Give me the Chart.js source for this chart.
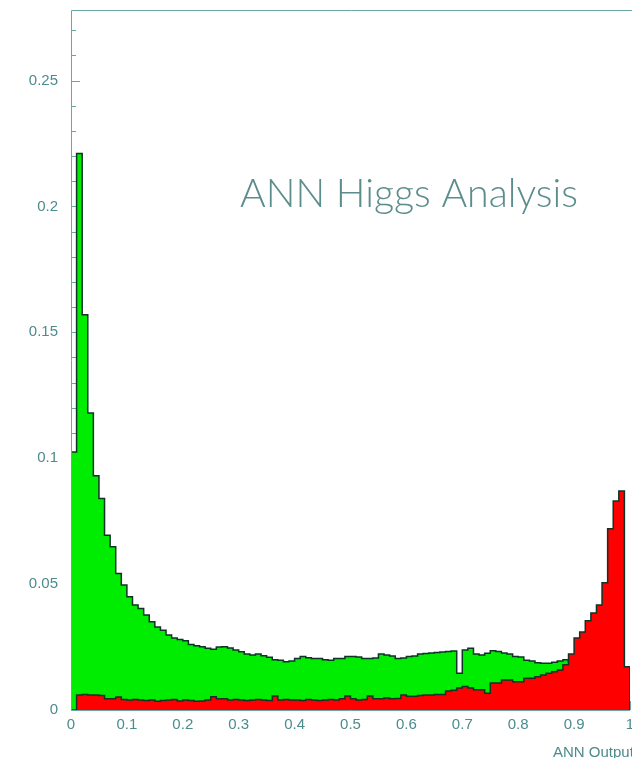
<!DOCTYPE html>
<html>
<head>
<meta charset="utf-8">
<script src="https://cdn.jsdelivr.net/npm/chart.js@4.4.1/dist/chart.umd.min.js"></script>
<style>
  html, body { margin: 0; padding: 0; background: #fff; }
  #wrap { width: 632px; height: 758px; position: relative; }
</style>
</head>
<body>
<div id="wrap"><canvas id="ann"></canvas></div>
<script>
// ANN output histogram, 100 bins over [0, 1]
const binWidth = 0.01;

// background (green)
const backgroundHist = [
  0.1025, 0.221, 0.157, 0.118, 0.093, 0.084, 0.0694, 0.0648, 0.0542, 0.0496,
  0.045, 0.0417, 0.0403, 0.0377, 0.035, 0.033, 0.0317, 0.0298, 0.0286, 0.028,
  0.0275, 0.026, 0.0255, 0.0251, 0.0245, 0.0241, 0.025, 0.0251, 0.0246, 0.0238,
  0.0231, 0.0222, 0.0218, 0.0222, 0.0215, 0.0209, 0.02, 0.0198, 0.0192, 0.0195,
  0.0205, 0.0212, 0.0208, 0.0205, 0.0205, 0.02, 0.0198, 0.0205, 0.0205, 0.0212,
  0.0212, 0.021, 0.0205, 0.0205, 0.0207, 0.0222, 0.0218, 0.0214, 0.0205, 0.0207,
  0.0212, 0.0214, 0.0222, 0.0224, 0.0226, 0.0228, 0.023, 0.0232, 0.0234, 0.0146,
  0.0238, 0.0245, 0.0222, 0.0218, 0.0225, 0.0235, 0.0232, 0.0226, 0.0222, 0.0212,
  0.021, 0.0198, 0.0195, 0.0188, 0.0186, 0.0186, 0.019, 0.0195, 0.02, 0.019,
  0.018, 0.017, 0.017, 0.016, 0.016, 0.015, 0.015, 0.014, 0.014, 0.013
];

// signal (red)
const signalHist = [
  0, 0.006, 0.0062, 0.006, 0.006, 0.0058, 0.0045, 0.0045, 0.0052, 0.0042,
  0.004, 0.0042, 0.004, 0.0038, 0.004, 0.0035, 0.0038, 0.004, 0.0042, 0.0036,
  0.004, 0.0038, 0.0035, 0.0036, 0.004, 0.0053, 0.0045, 0.0045, 0.004, 0.0042,
  0.004, 0.0038, 0.004, 0.0042, 0.004, 0.0038, 0.0056, 0.004, 0.0042, 0.004,
  0.004, 0.0038, 0.0042, 0.004, 0.0038, 0.004, 0.0042, 0.004, 0.0045, 0.0056,
  0.0045, 0.004, 0.0042, 0.0056, 0.0045, 0.0045, 0.0048, 0.0045, 0.0046, 0.006,
  0.0055, 0.0055, 0.0058, 0.006, 0.006, 0.0062, 0.0062, 0.0075, 0.0078, 0.0087,
  0.0093, 0.0087, 0.008, 0.008, 0.0067, 0.0107, 0.0107, 0.0119, 0.0119, 0.0112,
  0.0112, 0.0126, 0.0126, 0.0132, 0.0139, 0.0146, 0.0152, 0.0159, 0.018, 0.0222,
  0.0286, 0.031, 0.0354, 0.0385, 0.0417, 0.0505, 0.072, 0.083, 0.087, 0.0172
];

const xTickValues = [0, 0.1, 0.2, 0.3, 0.4, 0.5, 0.6, 0.7, 0.8, 0.9, 1];
const xTickLabels = ['0', '0.1', '0.2', '0.3', '0.4', '0.5', '0.6', '0.7', '0.8', '0.9', '1'];
const yTickValues = [0, 0.05, 0.1, 0.15, 0.2, 0.25];
const yTickLabels = ['0', '0.05', '0.1', '0.15', '0.2', '0.25'];

const titleText = 'ANN Higgs Analysis';
const xAxisText = 'ANN Output';

const axisColor = '#6aa6a6';
const textColor = '#4e8b8b';
const outline = '#0f3326';

// step-histogram points: left edge of each bin, then close at x = 1
function toSteps(hist) {
  const pts = hist.map((v, i) => ({ x: i * binWidth, y: v }));
  pts.push({ x: hist.length * binWidth, y: hist[hist.length - 1] });
  pts.push({ x: hist.length * binWidth, y: 0 });
  return pts;
}

const frameAndTicks = {
  id: 'frameAndTicks',
  beforeDatasetsDraw(chart) {
    const { ctx, chartArea: a, scales: { x, y } } = chart;
    ctx.save();
    ctx.strokeStyle = axisColor;
    ctx.lineWidth = 1;
    ctx.beginPath();
    for (let i = 0; i <= 27; i++) {
      const py = Math.round(y.getPixelForValue(i * 0.01)) + 0.5;
      const len = i % 5 === 0 ? 9 : 5;
      ctx.moveTo(a.left, py);
      ctx.lineTo(a.left + len, py);
    }
    for (let i = 0; i <= 50; i++) {
      const px = Math.round(x.getPixelForValue(i * 0.02)) + 0.5;
      const len = i % 5 === 0 ? 9 : 5;
      ctx.moveTo(px, a.bottom);
      ctx.lineTo(px, a.bottom - len);
    }
    ctx.stroke();
    ctx.restore();
  },
  afterDraw(chart) {
    const { ctx, chartArea: a } = chart;
    ctx.save();
    ctx.strokeStyle = axisColor;
    ctx.lineWidth = 1;
    ctx.beginPath();
    ctx.moveTo(a.left + 0.5, a.bottom);
    ctx.lineTo(a.left + 0.5, a.top + 0.5);
    ctx.lineTo(chart.width, a.top + 0.5);
    ctx.moveTo(a.left, a.bottom + 0.5);
    ctx.lineTo(a.right, a.bottom + 0.5);
    ctx.stroke();

    // title, squeezed to the width it has in the original
    ctx.fillStyle = '#5d8c8c';
    ctx.font = '300 40px Lato, "Open Sans", sans-serif';
    ctx.textBaseline = 'alphabetic';
    const w = ctx.measureText(titleText).width;
    ctx.translate(240, 207);
    ctx.scale(338 / w, 1);
    ctx.fillText(titleText, 0, 0);
    ctx.setTransform(1, 0, 0, 1, 0, 0);

    ctx.fillStyle = textColor;
    ctx.font = '15px "Liberation Sans", Arial, sans-serif';
    ctx.textBaseline = 'alphabetic';
    ctx.fillText(xAxisText, 553, 757);
    ctx.restore();
  }
};

const ctx = document.getElementById('ann').getContext('2d');
new Chart(ctx, {
  type: 'line',
  data: {
    datasets: [
      {
        label: 'signal',
        data: toSteps(signalHist),
        stepped: 'before',
        fill: 'origin',
        backgroundColor: '#ff0000',
        borderColor: outline,
        borderWidth: 1.5,
        pointRadius: 0,
        tension: 0
      },
      {
        label: 'background',
        data: toSteps(backgroundHist),
        stepped: 'before',
        fill: 'origin',
        backgroundColor: '#00ec00',
        borderColor: outline,
        borderWidth: 1.5,
        pointRadius: 0,
        tension: 0
      }
    ]
  },
  options: {
    responsive: true,
    maintainAspectRatio: false,
    animation: false,
    layout: { padding: { top: 10, right: 2, left: 0, bottom: 0 } },
    plugins: { legend: { display: false }, tooltip: { enabled: false } },
    scales: {
      x: {
        type: 'linear',
        min: 0,
        max: 1,
        grid: { display: false, drawTicks: false },
        border: { display: false },
        afterBuildTicks: s => { s.ticks = xTickValues.map(v => ({ value: v })); },
        afterFit: s => { s.height = 48; s.paddingLeft = 0; s.paddingRight = 0; },
        ticks: {
          padding: 6,
          maxRotation: 0,
          autoSkip: false,
          color: textColor,
          font: { family: '"Liberation Sans", Arial, sans-serif', size: 15 },
          callback: (v, i) => xTickLabels[i]
        }
      },
      y: {
        min: 0,
        max: 0.278,
        grid: { display: false, drawTicks: false },
        border: { display: false },
        afterBuildTicks: s => { s.ticks = yTickValues.map(v => ({ value: v })); },
        afterFit: s => { s.width = 71; s.paddingTop = 0; s.paddingBottom = 0; },
        ticks: {
          padding: 13,
          autoSkip: false,
          color: textColor,
          font: { family: '"Liberation Sans", Arial, sans-serif', size: 15 },
          callback: (v, i) => yTickLabels[i]
        }
      }
    }
  },
  plugins: [frameAndTicks]
});
</script>
</body>
</html>
